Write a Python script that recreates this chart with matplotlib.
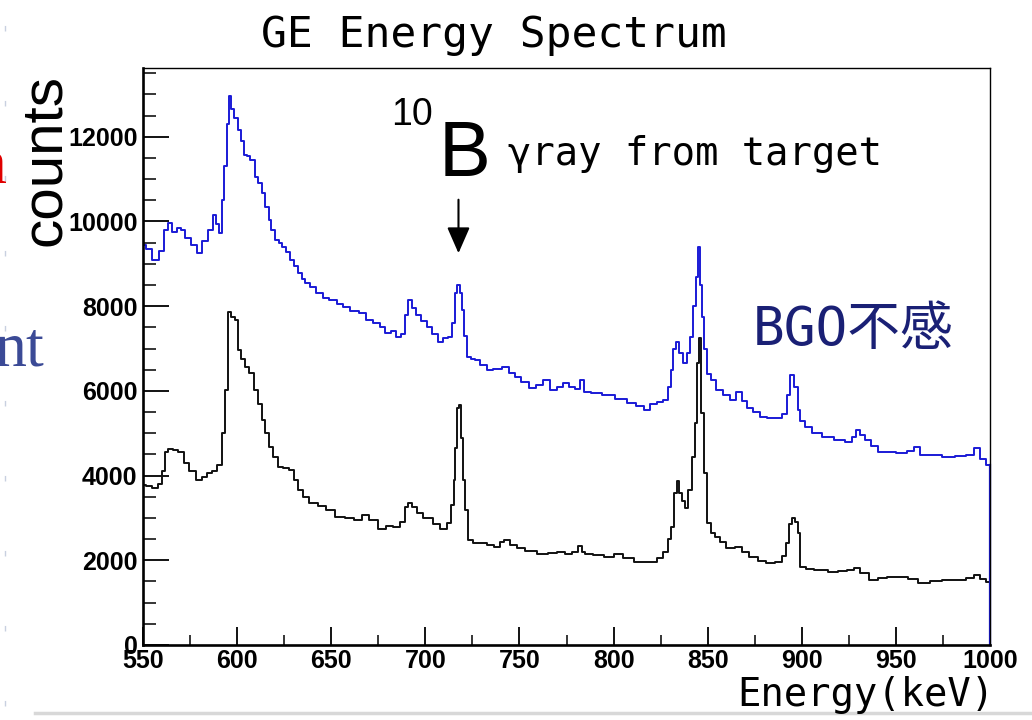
import matplotlib.pyplot as plt
from matplotlib.ticker import MultipleLocator
from matplotlib.lines import Line2D

# Espectro GE: energia (keV) e contagens
energia_azul = [550, 553, 557, 560, 562, 564, 567, 569, 571, 574, 577, 580, 583, 586, 588, 590, 591,
                592.5, 594, 595, 596, 597.5, 599, 601.5, 603, 604.5, 606, 608, 610.5, 612, 614, 616,
                617.5, 619, 621, 623, 624.5, 627, 629.5, 631, 633.5, 635, 637, 640, 644, 647, 651, 655,
                658, 662, 667, 670, 674, 677.5, 680, 683, 686, 688, 690, 692, 694, 696, 699, 702.5, 705,
                708, 711, 713, 715, 716.5, 717.5, 719, 720, 721.5, 723, 725, 727.5, 731, 734, 738, 743,
                746, 749, 753, 757, 761, 764.5, 768, 771.5, 775, 778, 781, 783, 785.5, 790, 798, 804,
                810, 814, 818, 821, 825, 828, 830, 831, 832.5, 834, 836, 838, 840, 841.5, 843, 844.5,
                845.5, 846.5, 847.5, 849, 850.5, 853, 856, 860, 863.5, 867, 869, 872.5, 876, 879.5, 884,
                888.5, 891, 893, 895, 897, 898.5, 900, 903, 908, 914, 920, 925.5, 928, 930, 932, 935,
                939, 942, 947, 953.5, 958, 961, 965, 971, 978, 985, 990, 993, 996, 1000]
contagens_azul = [9450, 9350, 9100, 9300, 9800, 9960, 9750, 9850, 9800, 9600, 9450, 9250, 9550, 9800,
                  10150, 9950, 9730, 10500, 11300, 12300, 12960, 12650, 12450, 12160, 11900, 11570,
                  11550, 11450, 11050, 10900, 10670, 10350, 10030, 9800, 9560, 9500, 9400, 9280, 9090,
                  8950, 8780, 8650, 8550, 8450, 8310, 8200, 8145, 8050, 7980, 7880, 7840, 7670, 7600,
                  7510, 7370, 7420, 7270, 7350, 7800, 8145, 7950, 7800, 7650, 7510, 7350, 7150, 7250,
                  7270, 7600, 8300, 8500, 8300, 7900, 7300, 6800, 6750, 6730, 6600, 6490, 6520, 6560,
                  6420, 6330, 6200, 6070, 6150, 6260, 6020, 6090, 6190, 6100, 6050, 6250, 5980, 5950,
                  5900, 5800, 5710, 5650, 5550, 5680, 5740, 5780, 6100, 6490, 7000, 7150, 6900, 6650,
                  6900, 7270, 8000, 8700, 9400, 8500, 7750, 7000, 6400, 6250, 6020, 5900, 5780, 5980,
                  5750, 5590, 5500, 5390, 5370, 5350, 5450, 5900, 6375, 6100, 5550, 5300, 5150, 5000,
                  4920, 4850, 4800, 4900, 5080, 4950, 4840, 4700, 4560, 4550, 4530, 4580, 4680, 4490,
                  4480, 4450, 4470, 4480, 4640, 4400, 4250]

energia_preto = [550, 553, 557, 559, 561, 562.5, 564.5, 567, 570, 573, 576, 580, 583, 585.5, 588, 591,
                 592.5, 594.5, 596, 598, 599.5, 601.5, 603, 605, 607.5, 610.5, 612, 614, 616, 618, 620,
                 623, 626, 629, 631, 633.5, 636, 640.5, 645, 649.5, 654.5, 660, 664, 668.5, 672, 677.5,
                 681, 685, 688, 690, 692, 694, 697, 700, 702.5, 706, 709.5, 713, 714.5, 715.5, 716.5,
                 717.5, 718.5, 719.5, 720.5, 721.5, 723.5, 727, 731, 735, 738, 741, 743, 747, 750, 756,
                 762.5, 768, 772, 776, 780, 782, 784, 786, 792, 798, 802.5, 808, 814, 821, 825, 828, 830,
                 831, 833, 834, 835.5, 837, 838.5, 840.5, 842.5, 844, 844.8, 845.8, 847.2, 848.6, 850.4,
                 853, 855, 858, 862, 867, 870, 874, 879, 883, 888.5, 891, 892.5, 894, 895.5, 897, 898.5,
                 900, 904, 908.5, 912, 916, 922, 926, 929, 933, 938.5, 943, 948, 953.5, 959, 965, 971,
                 978, 985, 990, 993, 996, 1000]
contagens_preto = [3780, 3750, 3700, 3800, 4100, 4560, 4630, 4600, 4560, 4290, 4100, 3900, 3960, 4060,
                   4100, 4250, 5000, 6020, 7870, 7750, 7670, 6960, 6750, 6570, 6420, 6020, 5700, 5310,
                   5000, 4680, 4450, 4210, 4180, 4130, 3900, 3660, 3500, 3350, 3270, 3190, 3030, 2990,
                   2960, 3070, 2950, 2750, 2800, 2790, 2900, 3250, 3360, 3250, 3110, 3000, 2990, 2850,
                   2750, 2870, 3300, 3900, 4640, 5600, 5670, 4880, 3900, 3190, 2480, 2400, 2400, 2350,
                   2320, 2420, 2480, 2350, 2280, 2220, 2160, 2180, 2200, 2160, 2200, 2340, 2200, 2160,
                   2120, 2080, 2160, 2050, 1970, 1970, 2050, 2200, 2500, 2790, 3580, 3880, 3600, 3400,
                   3230, 3660, 4450, 5230, 6650, 7240, 5470, 4050, 2870, 2650, 2560, 2420, 2280, 2320,
                   2200, 2080, 1980, 1930, 1970, 2100, 2400, 2850, 3000, 2900, 2640, 1850, 1800, 1770,
                   1780, 1730, 1750, 1780, 1810, 1700, 1530, 1580, 1600, 1610, 1550, 1460, 1500, 1530,
                   1540, 1580, 1650, 1550, 1490]

ticks_x = [550, 600, 650, 700, 750, 800, 850, 900, 950, 1000]
ticks_y = [0, 2000, 4000, 6000, 8000, 10000, 12000]

pico_b10 = 717.6  # energia do pico de 10B indicado pela seta

mono = ['DejaVu Sans Mono', 'Noto Sans CJK JP']
azul = '#1a1ad6'

fig = plt.figure(figsize=(10.32, 7.2), dpi=100)
ax = fig.add_axes([0.1386, 0.1042, 0.8207, 0.8014])

ax.step(energia_azul, contagens_azul, where='mid', color=azul, lw=1.4)
ax.step(energia_preto, contagens_preto, where='mid', color='#111111', lw=1.4)
ax.plot([1000, 1000], [0, contagens_azul[-1]], color=azul, lw=1.6, clip_on=False)

ax.set_xlim(550, 1000)
ax.set_ylim(0, 13625)
ax.set_xticks(ticks_x)
ax.set_yticks(ticks_y)
ax.xaxis.set_minor_locator(MultipleLocator(25))
ax.yaxis.set_minor_locator(MultipleLocator(500))
ax.tick_params(axis='y', which='major', direction='in', length=19, width=1.3, pad=4)
ax.tick_params(axis='y', which='minor', direction='in', length=9.5, width=1.1)
ax.tick_params(axis='x', which='major', direction='in', length=13, width=1.3, pad=3)
ax.tick_params(axis='x', which='minor', direction='in', length=7, width=1.1)
for lab in ax.get_xticklabels() + ax.get_yticklabels():
    lab.set_fontfamily('Liberation Sans')
    lab.set_fontweight('bold')
    lab.set_fontsize(18)
ax.spines['left'].set_linewidth(1.9)
ax.spines['bottom'].set_linewidth(1.9)
ax.spines['top'].set_linewidth(1.0)
ax.spines['right'].set_linewidth(1.0)

# textos
fig.text(0.479, 0.951, 'GE Energy Spectrum', family=mono, fontsize=31, ha='center', va='center')
fig.text(0.044, 0.778, 'counts', family='Liberation Sans', fontsize=42, rotation=90,
         ha='center', va='center')
fig.text(0.964, 0.035, 'Energy(keV)', family=mono, fontsize=28, ha='right', va='center')

ax.text(682.0, 12950, '10', family='Liberation Sans', fontsize=27, ha='left', va='top')
ax.text(707.0, 11073, 'B', family='Liberation Sans', fontsize=56, ha='left', va='baseline')
ax.text(744.0, 11333, '\u03b3ray from target', family=mono, fontsize=28, ha='left', va='baseline')
ax.annotate('', xy=(pico_b10, 9185), xytext=(pico_b10, 10580),
            arrowprops=dict(arrowstyle='-|>,head_length=1.6,head_width=0.7', color='black', lw=1.5))
ax.text(874.1, 7440, 'BGO不感', family=mono, fontsize=38, color='#1a2075', ha='left', va='center')

# restos do slide a esquerda
fig.text(-25 / 1032, 1 - 183 / 720, 'n', family='Liberation Serif', fontsize=46, color='#e00000')
fig.text(-5 / 1032, 1 - 365 / 720, 'nt', family='Liberation Serif', fontsize=46, color='#3b4a96')
fig.add_artist(Line2D([5 / 1032, 5 / 1032], [0.02, 1.0], transform=fig.transFigure,
                      color='#c8d0e0', lw=1, linestyle=(0, (4, 50))))
fig.add_artist(Line2D([35 / 1032, 1.0], [1 - 713 / 720] * 2, transform=fig.transFigure,
                      color='#d8d8d8', lw=2.5))

plt.savefig('out.png', dpi=100)
